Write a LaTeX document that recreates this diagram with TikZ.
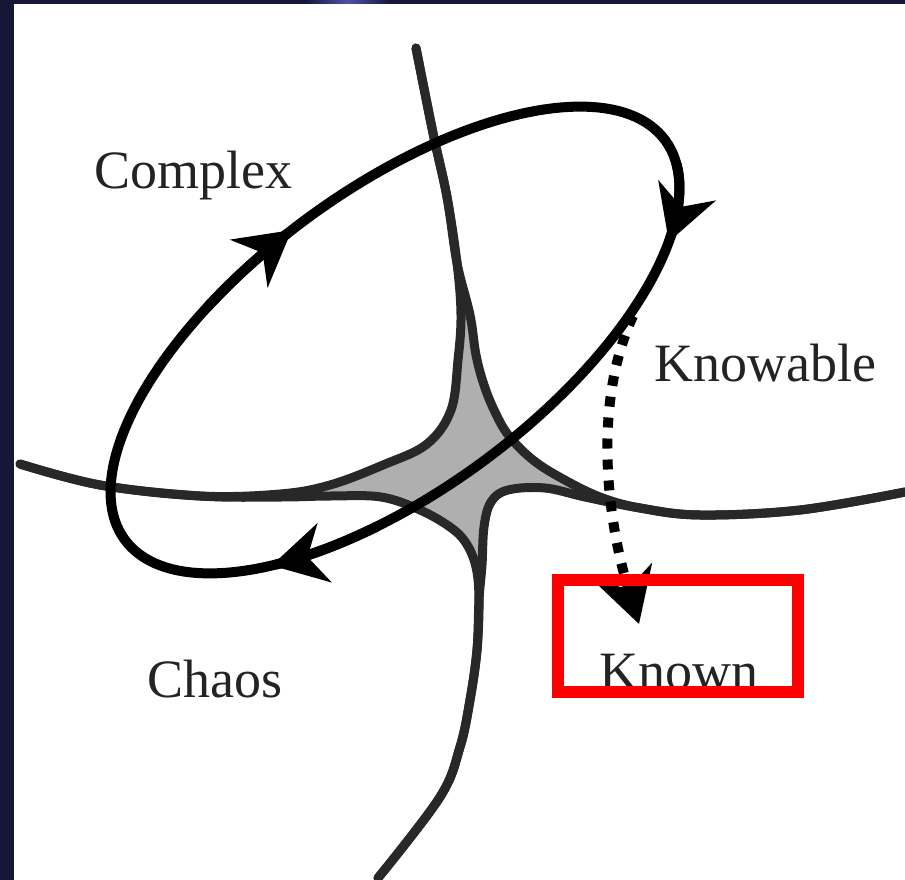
\documentclass[tikz,border=0pt]{standalone}
\usepackage{fontspec}
\setmainfont{Liberation Serif}
\newfontfamily\timesfam{Liberation Serif}
\usetikzlibrary{arrows.meta}
\definecolor{navy}{RGB}{22,22,56}
\definecolor{topblue}{RGB}{80,80,170}
\definecolor{bline}{RGB}{40,40,40}
\definecolor{bfill}{RGB}{175,175,175}
\definecolor{txt}{RGB}{35,35,35}
\newcommand{\ellX}[1]{395+336*cos(#1)*0.80386-150*sin(#1)*0.59482}
\newcommand{\ellY}[1]{340-336*cos(#1)*0.59482-150*sin(#1)*0.80386}
\begin{document}
\begin{tikzpicture}[x=1pt,y=-1pt,
  bound/.style={draw=bline,line width=9pt,line cap=round,line join=round},
  loopline/.style={draw=black,line width=10pt},
  head/.style={-{Stealth[length=54pt,width=60pt,inset=17pt]}},
  lbl/.style={font=\timesfam\fontsize{54}{60}\selectfont,text=txt,inner sep=0pt,anchor=base west}]
\useasboundingbox (0,0) rectangle (905,880);
% background panel
\fill[navy] (0,0) rectangle (905,880);
\shade[left color=navy,right color=navy,middle color=topblue] (305,0) rectangle (390,4);
\fill[white] (14,4) rectangle (905,880);
% grey centre
\fill[bfill] (461,315) -- (458,360) -- (451,410) -- (427,444) -- (383,465) -- (330,485) -- (280,494)
  -- (330,496) -- (381,497) -- (420,510) -- (450,527) -- (466,543) -- (476,567) -- (479,590)
  -- (482,565) -- (484,527) -- (491,502) -- (508,490) -- (545,488) -- (585,497) -- (630,506)
  -- (600,497) -- (563,479) -- (533,460) -- (509,436) -- (495,412) -- (484,385) -- (476,355) -- (470,315) -- cycle;
% boundary curves
\draw[bound] plot[smooth,tension=0.6] coordinates {(416,48) (433,133) (447,197) (457,263) (461,315) (458,360) (451,410) (427,444) (383,465) (330,485) (280,494) (200,496) (100,485) (20,464)};
\draw[bound] plot[smooth,tension=0.6] coordinates {(416,48) (433,133) (447,197) (457,263) (470,315) (476,355) (484,385) (495,412) (509,436) (533,460) (563,479) (600,497) (640,508) (700,515) (800,510) (905,492)};
\draw[bound] plot[smooth,tension=0.6] coordinates {(378,878) (440,797) (460,747) (470,700) (477,650) (479,600) (476,567) (466,543) (450,527) (420,510) (381,497) (330,496) (280,497) (200,496) (100,485) (20,464)};
\draw[bound] plot[smooth,tension=0.6] coordinates {(378,878) (440,797) (460,747) (470,700) (477,650) (479,600) (482,565) (484,527) (491,502) (508,490) (545,488) (585,497) (640,508) (700,515) (800,510) (905,492)};
% loop
\draw[loopline] plot[domain=0:360,samples=181] ({\ellX{\x}},{\ellY{\x}}) -- cycle;
\draw[loopline,head] plot[domain=0:20,samples=21] ({\ellX{(113-\x)}},{\ellY{(113-\x)}});
\draw[loopline,head] plot[domain=0:24,samples=25] ({\ellX{(-10-\x)}},{\ellY{(-10-\x)}});
\draw[loopline,head] plot[domain=0:22,samples=23] ({\ellX{(-112-\x)}},{\ellY{(-112-\x)}});
% dotted arrow
\coordinate (ds) at (633,316);
\coordinate (dt) at (639,624);
\draw[draw=black,line width=10pt,dash pattern=on 10pt off 11pt,head] (ds) .. controls (590,410) and (610,530) .. (dt);
% labels
\node[lbl] (complex) at (94,188) {Complex};
\node[lbl] (knowable) at (654,381) {Knowable};
\node[lbl] (chaos) at (147,697) {Chaos};
\node[lbl] (known) at (599,689) {Known};
\draw[red,line width=12pt] (558,580) rectangle (798,692);
\end{tikzpicture}
\end{document}
